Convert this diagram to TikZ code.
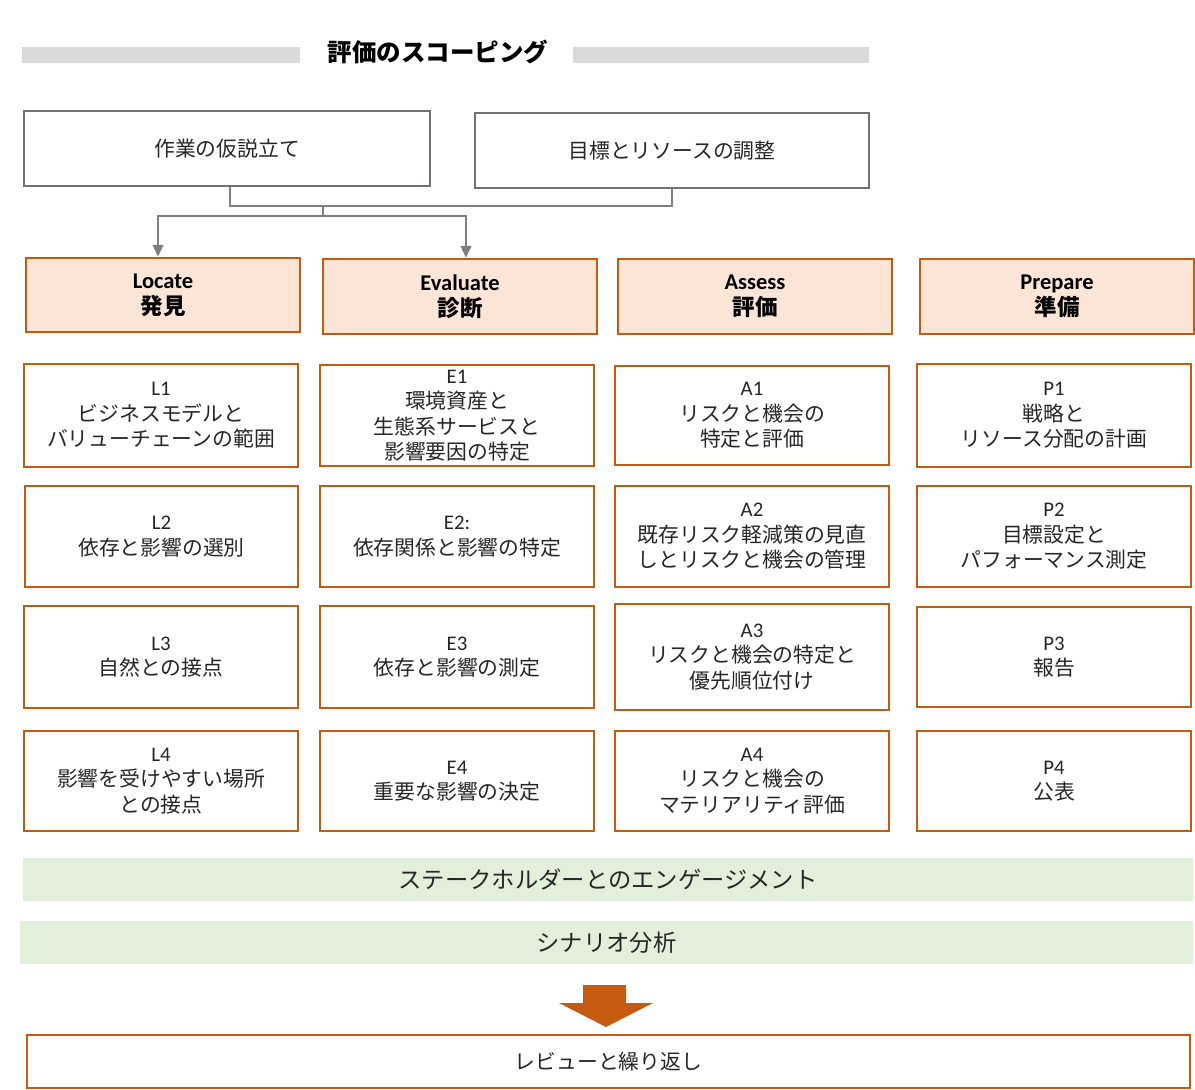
\documentclass[tikz,border=0pt]{standalone}
\usepackage{fontspec}
\setmainfont{Carlito}
\newfontfamily\cjk{Noto Sans CJK JP}
\usetikzlibrary{arrows.meta}
\definecolor{orng}{HTML}{C55A11}
\definecolor{peach}{HTML}{FBE5D6}
\definecolor{grn}{HTML}{E2EFDA}
\definecolor{lgray}{HTML}{D9D9D9}
\definecolor{bgray}{HTML}{767171}
\definecolor{cgray}{HTML}{7F7F7F}
\definecolor{txt}{HTML}{262626}
\newcommand\J[1]{{\cjk #1}}
\newcommand\mkbox[7]{\node[#6,minimum width={(#4-#2)*1pt},minimum height={(#5-#3)*1pt}] (#1) at ({(#2+#4)/2},{(#3+#5)/2}) {#7};}
\begin{document}
\begin{tikzpicture}[x=1pt,y=-1pt,
  base/.style={inner sep=0pt,align=center,text=txt},
  lbar/.style={base,fill=lgray,draw=none},
  gbox/.style={base,draw=bgray,line width=2pt,fill=white,font=\fontsize{20.8}{25}\selectfont},
  hbox/.style={base,draw=orng,line width=2.5pt,fill=peach,text=black,font=\fontsize{22.5}{26}\selectfont\bfseries},
  obox/.style={base,draw=orng,line width=2pt,fill=white,font=\fontsize{20.8}{25.5}\selectfont},
  gbar/.style={base,fill=grn,draw=none,font=\fontsize{23.3}{26}\selectfont},
  conn/.style={draw=cgray,line width=1.2pt},
  tip/.style={conn,-{Triangle[width=11pt,length=12pt,fill=cgray]}}]
\useasboundingbox (0,0) rectangle (1195,1090);
\fill[white] (0,0) rectangle (1195,1090);
% title
\mkbox{barl}{22}{47}{300}{63}{lbar}{}
\mkbox{barr}{573}{47}{869}{63}{lbar}{}
\node[base,text=black,font=\fontsize{24.5}{28}\selectfont\bfseries] (title) at (438,52) {\J{評価のスコーピング}};
% top boxes
\mkbox{hyp}{24}{111}{430}{186}{gbox}{\J{作業の仮説立て}}
\mkbox{goal}{475}{113}{869}{188}{gbox}{\J{目標とリソースの調整}}
% headers
\mkbox{loc}{26}{258}{300}{332}{hbox}{Locate\\\J{発見}}
\mkbox{eva}{323}{259}{597}{334}{hbox}{Evaluate\\\J{診断}}
\mkbox{ass}{618}{259}{892}{334}{hbox}{Assess\\\J{評価}}
\mkbox{pre}{920}{259}{1194}{334}{hbox}{Prepare\\\J{準備}}
% row 1
\mkbox{L1}{24}{364}{298}{467}{obox}{L1\\\J{ビジネスモデルと}\\\J{バリューチェーンの範囲}}
\mkbox{E1}{320}{365}{594}{466}{obox}{E1\\\J{環境資産と}\\\J{生態系サービスと}\\\J{影響要因の特定}}
\mkbox{A1}{615}{366}{889}{465}{obox}{A1\\\J{リスクと機会の}\\\J{特定と評価}}
\mkbox{P1}{917}{364}{1191}{467}{obox}{P1\\\J{戦略と}\\\J{リソース分配の計画}}
% row 2
\mkbox{L2}{25}{486}{298}{587}{obox}{L2\\\J{依存と影響の選別}}
\mkbox{E2}{320}{486}{594}{587}{obox}{E2:\\\J{依存関係と影響の特定}}
\mkbox{A2}{615}{486}{889}{587}{obox}{A2\\\J{既存リスク軽減策の見直}\\\J{しとリスクと機会の管理}}
\mkbox{P2}{917}{486}{1191}{587}{obox}{P2\\\J{目標設定と}\\\J{パフォーマンス測定}}
% row 3
\mkbox{L3}{24}{606}{298}{708}{obox}{L3\\\J{自然との接点}}
\mkbox{E3}{320}{606}{594}{708}{obox}{E3\\\J{依存と影響の測定}}
\mkbox{A3}{615}{604}{889}{710}{obox}{A3\\\J{リスクと機会の特定と}\\\J{優先順位付け}}
\mkbox{P3}{917}{607}{1191}{707}{obox}{P3\\\J{報告}}
% row 4
\mkbox{L4}{24}{731}{298}{831}{obox}{L4\\\J{影響を受けやすい場所}\\\J{との接点}}
\mkbox{E4}{320}{731}{594}{831}{obox}{E4\\\J{重要な影響の決定}}
\mkbox{A4}{615}{731}{889}{831}{obox}{A4\\\J{リスクと機会の}\\\J{マテリアリティ評価}}
\mkbox{P4}{917}{731}{1191}{831}{obox}{P4\\\J{公表}}
% green bars
\mkbox{stake}{23}{858}{1193}{901}{gbar}{\J{ステークホルダーとのエンゲージメント}}
\mkbox{scen}{20}{921}{1193}{964}{gbar}{\J{シナリオ分析}}
% review
\mkbox{rev}{27}{1035}{1190}{1088}{obox}{\J{レビューと繰り返し}}
% connectors
\coordinate (jn) at (323,206);
\coordinate (jb) at (323,216);
\draw[conn] ([xshift=3pt]hyp.south) -- ([xshift=3pt]hyp.south |- jn) -- (goal.south |- jn) -- (goal.south);
\draw[conn] (jn) -- (jb);
\draw[tip] (jb) -| ([xshift=-5pt]loc.north);
\draw[tip] (jb) -| ([xshift=6pt]eva.north);
% big arrow
\fill[orng] (583,985) -- (626,985) -- (626,1003) -- (653,1003) -- (606,1027) -- (559,1003) -- (583,1003) -- cycle;
\end{tikzpicture}
\end{document}
